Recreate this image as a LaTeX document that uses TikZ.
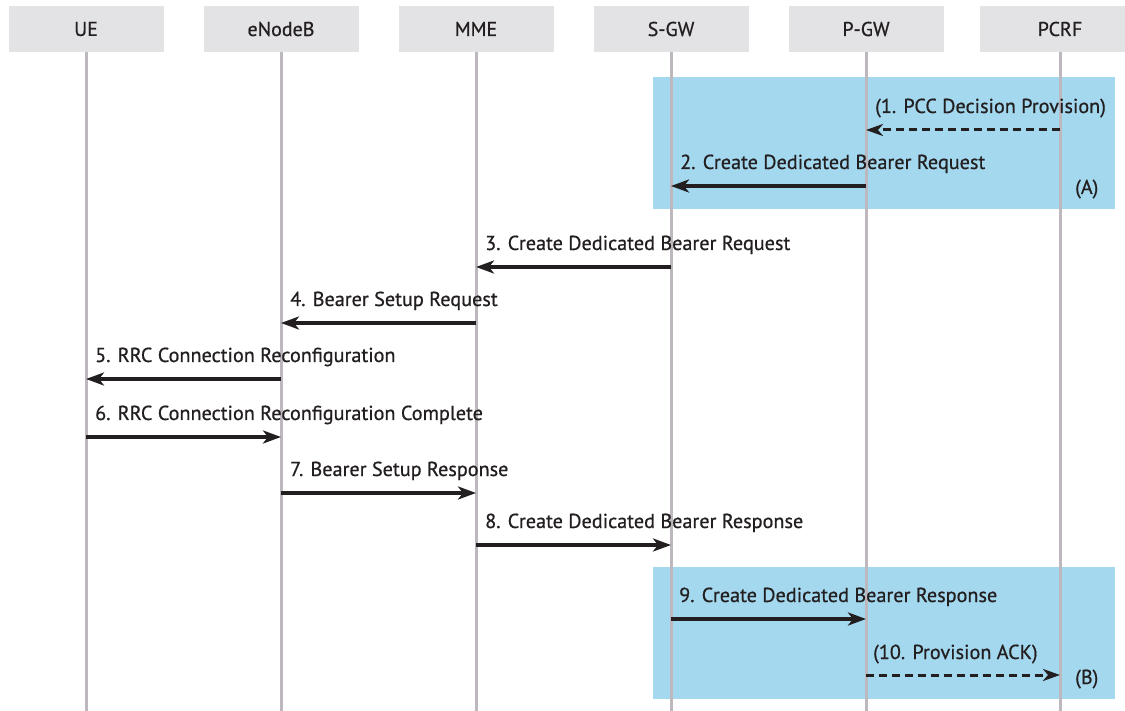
\documentclass[tikz,border=0pt]{standalone}
\usepackage{fontspec}
\setmainfont{PT Sans}
\newfontfamily\diagfont{PT Sans}[FakeBold=0.7]
\usetikzlibrary{arrows.meta}
\definecolor{hdrfill}{HTML}{E3E2E4}
\definecolor{lifegray}{HTML}{BCB8BD}
\definecolor{bandblue}{HTML}{A3D8EF}
\definecolor{inkdark}{HTML}{231F20}
\begin{document}
\begin{tikzpicture}[x=1pt,y=-1pt,
  header/.style={fill=hdrfill,draw=none,minimum width=155pt,minimum height=46pt,
    inner sep=0pt,font=\diagfont\fontsize{20}{20}\selectfont,text=inkdark},
  lifeline/.style={draw=lifegray,line width=3pt},
  band/.style={fill=bandblue,draw=none},
  msg/.style={draw=inkdark,line width=4pt,-{Stealth[length=18pt,width=13pt,inset=5pt]}},
  optmsg/.style={draw=inkdark,line width=3pt,dash pattern=on 8pt off 5pt,
    -{Stealth[length=17pt,width=12pt,inset=5pt]}},
  lbl/.style={anchor=base west,inner sep=0pt,font=\diagfont\fontsize{20.2}{20}\selectfont,text=inkdark},
  tag/.style={anchor=base west,inner sep=0pt,font=\diagfont\fontsize{20.2}{20}\selectfont,text=inkdark}]
\useasboundingbox (0,0) rectangle (1125,711);
\fill[white] (0,0) rectangle (1125,711);

% participant headers
\node[header] (ue)   at (86,29)   {UE};
\node[header] (enb)  at (281,29)  {eNodeB};
\node[header] (mme)  at (476,29)  {MME};
\node[header] (sgw)  at (671,29)  {S-GW};
\node[header] (pgw)  at (866,29)  {P-GW};
\node[header,minimum width=160pt] (pcrf) at (1060,29) {PCRF};

% highlighted phases (A) and (B)
\fill[band] (653,77) rectangle (1115,209);
\fill[band] (653,567) rectangle (1115,699);

% lifelines
\foreach \p/\x in {ue/86,enb/281,mme/476,sgw/671,pgw/866,pcrf/1060}
  \draw[lifeline] (\x,52) -- (\x,711);

% message rows
\coordinate (r1) at (0,130);
\coordinate (r2) at (0,186);
\coordinate (r3) at (0,267);
\coordinate (r4) at (0,323);
\coordinate (r5) at (0,379);
\coordinate (r6) at (0,437);
\coordinate (r7) at (0,493);
\coordinate (r8) at (0,545);
\coordinate (r9) at (0,619);
\coordinate (r10) at (0,675);

% lifeline x positions
\coordinate (ueX) at (86,0);
\coordinate (enbX) at (281,0);
\coordinate (mmeX) at (476,0);
\coordinate (sgwX) at (671,0);
\coordinate (pgwX) at (866,0);
\coordinate (pcrfX) at (1060,0);

\draw[optmsg] (pcrfX |- r1) -- (pgwX |- r1);
\draw[msg] (pgwX |- r2) -- (sgwX |- r2);
\draw[msg] (sgwX |- r3) -- (mmeX |- r3);
\draw[msg] (mmeX |- r4) -- (enbX |- r4);
\draw[msg] (enbX |- r5) -- (ueX |- r5);
\draw[msg] (ueX |- r6) -- (enbX |- r6);
\draw[msg] (enbX |- r7) -- (mmeX |- r7);
\draw[msg] (mmeX |- r8) -- (sgwX |- r8);
\draw[msg] (sgwX |- r9) -- (pgwX |- r9);
\draw[optmsg] (pgwX |- r10) -- (pcrfX |- r10);

% message labels
\node[lbl] (l1) at (875,113) {(1. PCC Decision Provision)};
\node[lbl] (l2) at (680,169) {2. Create Dedicated Bearer Request};
\node[lbl] (l3) at (485,250) {3. Create Dedicated Bearer Request};
\node[lbl] (l4) at (290,306) {4. Bearer Setup Request};
\node[lbl] (l5) at (95,362) {5. RRC Connection Reconfiguration};
\node[lbl] (l6) at (95,420) {6. RRC Connection Reconfiguration Complete};
\node[lbl] (l7) at (290,476) {7. Bearer Setup Response};
\node[lbl] (l8) at (485,528) {8. Create Dedicated Bearer Response};
\node[lbl] (l9) at (679,602) {9. Create Dedicated Bearer Response};
\node[lbl] (l10) at (873,659) {(10. Provision ACK)};

\node[tag] (tA) at (1075,194) {(A)};
\node[tag] (tB) at (1075,684) {(B)};
\end{tikzpicture}
\end{document}
